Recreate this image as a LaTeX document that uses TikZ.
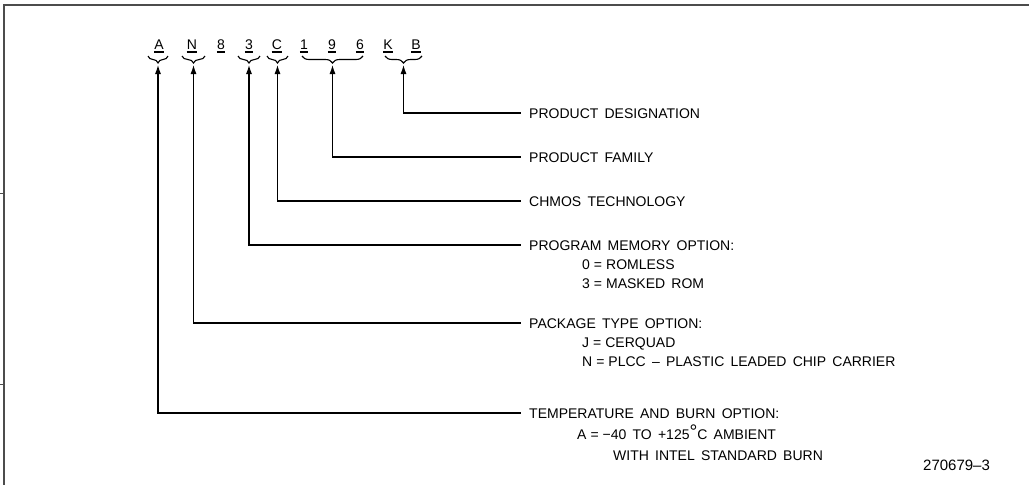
\documentclass[tikz,border=0pt]{standalone}
\usepackage{fontspec}
\usepackage{graphicx}
\setmainfont{Liberation Sans}
\usetikzlibrary{arrows.meta,decorations.pathreplacing}
\newcommand\diagfont{\fontsize{14}{16}\selectfont\spaceskip 6.2pt\relax}
\newcommand\figfont{\fontsize{15}{16}\selectfont}
\newcommand\eqs{\hspace{4pt}=\hspace{4pt}}
\begin{document}
\begin{tikzpicture}[x=1pt,y=-1pt,
  every node/.style={font=\diagfont},
  letter/.style={inner sep=0pt,anchor=base},
  lbl/.style={inner xsep=8pt,inner ysep=0pt,anchor=base west,text height=10pt,text depth=0pt},
  sub/.style={inner sep=0pt,anchor=base west},
  ul/.style={line width=1.1pt},
  brc/.style={line width=1.1pt,decorate,decoration={brace,amplitude=7pt}},
  arr/.style={line width=1.1pt,{Latex[length=9pt,width=6pt]}-},
  frame/.style={line width=2pt,draw=black!70}]
\useasboundingbox (0,0) rectangle (1029,485);
% frame
\draw[frame] (3.5,485) -- (3.5,4.5) -- (1029,4.5);
\draw[line width=1pt,black!70] (0,193) -- (3.5,193);
\draw[line width=1pt,black!70] (0,384) -- (3.5,384);
% part-number letters
\foreach \n/\t/\x in {lA/A/159,lN/N/192,l8/8/221,l3/3/249,lC/C/277,l1/1/304,l9/9/332,l6/6/360,lK/K/388,lB/B/416}{
  \node[letter] (\n) at (\x,49) {\t};
  \draw[ul] ([yshift=-3pt]\n.base west) -- ([yshift=-3pt]\n.base east);
}
% braces (right to left so they open downward)
\draw[brc] (168,56) -- (148,56);
\draw[brc] (205,56) -- (182,56);
\draw[brc] (260,56) -- (238,56);
\draw[brc] (288,56) -- (267,56);
\draw[brc] (363,56) -- (302,56);
\draw[brc] (422,56) -- (385,56);
\coordinate (bA) at (158,65);
\coordinate (bN) at (193.5,65);
\coordinate (b3) at (249,65);
\coordinate (bC) at (277.5,65);
\coordinate (b196) at (332.5,65);
\coordinate (bKB) at (403.5,65);
% labels
\node[lbl] (tKB) at (521,118) {PRODUCT DESIGNATION};
\node[lbl] (t196) at (521,162) {PRODUCT FAMILY};
\node[lbl] (tC) at (521,206) {CHMOS TECHNOLOGY};
\node[lbl] (t3) at (521,250) {PROGRAM MEMORY OPTION:};
\node[sub] (t3a) at (582,269) {0\eqs ROMLESS};
\node[sub] (t3b) at (582,288) {3\eqs MASKED ROM};
\node[lbl] (tN) at (521,328) {PACKAGE TYPE OPTION:};
\node[sub] (tNa) at (582,347) {J\eqs CERQUAD};
\node[sub] (tNb) at (582,366) {N\eqs PLCC – PLASTIC LEADED CHIP CARRIER};
\node[lbl] (tA) at (521,418) {TEMPERATURE AND BURN OPTION:};
\node[sub] (tAa) at (577,439) {A\eqs −40 TO +125\raisebox{0.1ex}{\scalebox{1.4}{°}}C AMBIENT};
\node[sub] (tAb) at (613,460) {WITH INTEL STANDARD BURN};
\node[sub,font=\figfont] (fig) at (923,470) {270679–3};
% connectors
\draw[arr] (bKB) |- (tKB.west);
\draw[arr] (b196) |- (t196.west);
\draw[arr] (bC) |- (tC.west);
\draw[arr] (b3) |- (t3.west);
\draw[arr] (bN) |- (tN.west);
\draw[arr] (bA) |- (tA.west);
\end{tikzpicture}
\end{document}
